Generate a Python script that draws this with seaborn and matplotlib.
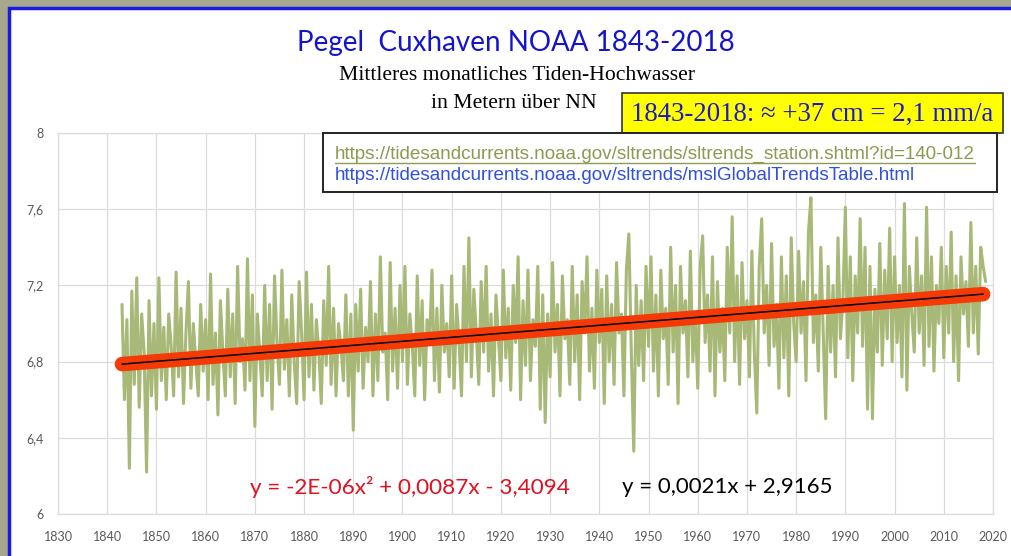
import numpy as np
import pandas as pd
import matplotlib.pyplot as plt
import seaborn as sns
from matplotlib.patches import Rectangle

# Monthly mean high water at Cuxhaven (two samples per year)
start_year = 1843
level_1840s = [7.10, 6.60, 7.02, 6.24, 7.17, 6.68, 7.24, 6.56, 7.05, 6.85, 6.22, 7.12, 6.62, 7.00]
level_1850s = [6.55, 7.24, 6.70, 6.98, 6.60, 7.05, 6.88, 6.62, 7.27, 6.72,
               7.08, 6.58, 6.95, 7.22, 6.66, 7.00, 6.80, 6.62, 7.10, 6.75]
level_1860s = [7.02, 6.60, 7.26, 6.68, 6.95, 6.52, 7.12, 6.85, 6.62, 7.18,
               6.72, 7.05, 6.58, 7.30, 6.80, 6.92, 6.65, 7.34, 6.70, 7.15]
level_1870s = [6.46, 7.05, 6.85, 6.62, 7.20, 6.70, 7.10, 6.55, 7.25, 6.90,
               6.68, 7.28, 6.76, 7.02, 6.62, 7.15, 6.80, 6.58, 7.22, 6.95]
level_1880s = [6.60, 7.27, 6.72, 7.10, 6.65, 7.02, 6.85, 6.58, 7.12, 6.78,
               7.30, 6.68, 7.08, 6.62, 7.00, 6.88, 6.70, 7.15, 6.62, 7.05]
level_1890s = [6.44, 7.10, 6.75, 7.18, 6.66, 6.98, 6.80, 7.22, 6.62, 7.05,
               6.70, 7.35, 6.85, 6.95, 6.60, 7.32, 6.75, 7.08, 6.66, 7.20]
level_1900s = [6.80, 7.30, 6.68, 7.05, 6.88, 6.62, 7.25, 6.78, 7.12, 6.60,
               7.02, 6.90, 7.28, 6.70, 7.08, 6.64, 7.20, 6.85, 7.00, 6.72]
level_1910s = [7.25, 6.66, 7.10, 6.90, 6.62, 7.30, 6.80, 7.45, 6.72, 7.18,
               6.95, 6.68, 7.22, 6.85, 7.30, 6.75, 7.05, 6.62, 7.15, 6.92]
level_1920s = [6.70, 7.28, 6.82, 7.08, 6.65, 7.20, 6.90, 7.35, 6.60, 7.12,
               6.78, 7.28, 6.70, 7.02, 6.88, 7.30, 6.55, 7.15, 6.48, 7.05]
level_1930s = [6.72, 7.32, 6.85, 7.10, 6.62, 7.25, 6.92, 7.02, 6.68, 7.30,
               6.80, 7.15, 6.60, 7.22, 6.95, 7.35, 6.75, 7.08, 6.66, 7.28]
level_1940s = [6.90, 7.18, 6.58, 7.25, 6.80, 7.10, 6.68, 7.32, 6.95, 7.05,
               6.62, 7.28, 7.47, 6.85, 6.33, 7.20, 6.78, 7.12, 6.70, 7.30]
level_1950s = [6.88, 7.35, 6.75, 7.15, 6.62, 7.28, 6.92, 7.08, 6.68, 7.40,
               6.85, 7.20, 6.58, 7.30, 6.95, 7.12, 6.72, 7.38, 6.80, 7.05]
level_1960s = [6.66, 7.30, 7.46, 6.90, 7.15, 6.75, 7.35, 6.62, 7.22, 6.85,
               7.08, 6.70, 7.40, 6.95, 7.56, 6.80, 7.25, 6.68, 7.32, 6.92]
level_1970s = [7.12, 6.72, 7.38, 6.85, 6.53, 7.30, 7.55, 6.95, 7.20, 6.78,
               7.42, 6.88, 7.10, 6.66, 7.35, 6.82, 7.25, 6.62, 7.45, 7.00]
level_1980s = [6.80, 7.38, 6.95, 7.22, 6.70, 7.48, 7.66, 6.90, 7.15, 6.75,
               7.40, 6.95, 6.50, 7.30, 6.85, 7.20, 6.72, 7.45, 6.92, 7.12]
level_1990s = [7.61, 6.82, 7.35, 6.70, 7.25, 6.95, 7.55, 6.88, 7.40, 6.55,
               7.30, 6.50, 7.18, 6.85, 7.42, 6.78, 7.28, 6.92, 7.50, 6.80]
level_2000s = [7.35, 6.90, 7.20, 6.72, 7.63, 6.65, 7.30, 7.05, 6.85, 7.45,
               6.95, 7.25, 6.78, 7.61, 6.88, 7.35, 6.75, 7.20, 7.00, 7.40]
level_2010s = [6.82, 7.30, 6.95, 7.48, 6.80, 7.25, 6.70, 7.35, 7.05, 7.22,
               6.88, 7.53, 6.95, 7.30, 6.84, 7.40, 7.30, 7.22]

# trend lines as shown in the chart
trend_slope = 0.0021
trend_intercept = 2.9165
trend_years = [1843, 2018]

x_ticks = list(range(1830, 2021, 10))
y_ticks = [6, 6.4, 6.8, 7.2, 7.6, 8]
y_tick_labels = ['6', '6,4', '6,8', '7,2', '7,6', '8']

levels = (level_1840s + level_1850s + level_1860s + level_1870s + level_1880s + level_1890s
          + level_1900s + level_1910s + level_1920s + level_1930s + level_1940s + level_1950s
          + level_1960s + level_1970s + level_1980s + level_1990s + level_2000s + level_2010s)
df = pd.DataFrame({'Jahr': start_year + 0.5 * np.arange(len(levels)), 'Pegel': levels})

trend_df = pd.DataFrame({'Jahr': trend_years})
trend_df['Trend'] = trend_slope * trend_df['Jahr'] + trend_intercept

sns.set_style('whitegrid')
plt.rcParams['font.family'] = ['Lato', 'DejaVu Sans']

W, H = 1011, 556
fig = plt.figure(figsize=(W / 100, H / 100), dpi=100)
fig.patch.set_facecolor('#a7a78d')

def fx(x):
    return x / W

def fy(y):
    return 1 - y / H

# white panel with blue frame
fig.add_artist(Rectangle((fx(8.5), fy(560)), fx(1010), 560 / H - 7.5 / H, transform=fig.transFigure,
                         facecolor='white', edgecolor='#1b1be6', linewidth=2.5, zorder=0))

ax = fig.add_axes([fx(58), fy(514), fx(993 - 58), (514 - 133) / H])
ax.set_facecolor('white')

sns.lineplot(data=df, x='Jahr', y='Pegel', ax=ax, color='#a7b877', linewidth=2.2,
             estimator=None, sort=False, zorder=2)
ax.plot(trend_df['Jahr'], trend_df['Trend'], color='#f53a06', linewidth=10.5,
        solid_capstyle='round', zorder=3)
ax.plot(trend_df['Jahr'], trend_df['Trend'], color='black', linewidth=1.1, zorder=4)

ax.set_xlim(1830, 2020)
ax.set_ylim(6, 8)
ax.set_xticks(x_ticks)
ax.set_yticks(y_ticks)
ax.set_yticklabels(y_tick_labels)
ax.set_xlabel('')
ax.set_ylabel('')
ax.grid(True, color='#dcdcdc', linewidth=0.9)
for s in ax.spines.values():
    s.set_color('#dcdcdc')
    s.set_linewidth(0.9)
ax.tick_params(axis='x', length=0, pad=12, labelsize=9, labelcolor='#595959')
ax.tick_params(axis='y', length=0, pad=10, labelsize=9, labelcolor='#595959')

# titles
fig.text(fx(516), fy(43), 'Pegel  Cuxhaven NOAA 1843-2018', ha='center', va='center',
         fontsize=20, color='#1414cc')
fig.text(fx(517), fy(75), 'Mittleres monatliches Tiden-Hochwasser', ha='center', va='center',
         fontsize=15.6, color='black', family='Liberation Serif')
fig.text(fx(514), fy(103), 'in Metern über NN', ha='center', va='center',
         fontsize=15.6, color='black', family='Liberation Serif')

# yellow box
fig.add_artist(Rectangle((fx(622), fy(133)), fx(1003 - 622), (133 - 93) / H, transform=fig.transFigure,
                         facecolor='#ffff00', edgecolor='#333333', linewidth=1.2, zorder=5))
fig.text(fx(812), fy(114), '1843-2018: ≈ +37 cm = 2,1 mm/a', ha='center', va='center',
         fontsize=19.3, color='#1a1acc', family=['Liberation Serif', 'DejaVu Serif'], zorder=6)

# link box
fig.add_artist(Rectangle((fx(323), fy(192)), fx(997 - 323), (192 - 133) / H, transform=fig.transFigure,
                         facecolor='white', edgecolor='#222222', linewidth=1.4, zorder=5))
link1 = fig.text(fx(335), fy(154), 'https://tidesandcurrents.noaa.gov/sltrends/sltrends_station.shtml?id=140-012',
                 ha='left', va='center', fontsize=13.6, color='#8c9a52', family='Liberation Sans', zorder=6)
fig.text(fx(335), fy(175), 'https://tidesandcurrents.noaa.gov/sltrends/mslGlobalTrendsTable.html',
         ha='left', va='center', fontsize=13.6, color='#3050e0', family='Liberation Sans', zorder=6)
fig.canvas.draw()
bb = link1.get_window_extent()
fig.add_artist(plt.Line2D([bb.x0 / W, bb.x1 / W], [fy(163), fy(163)], transform=fig.transFigure,
                          color='#8c9a52', linewidth=1, zorder=6))

# trend equations
fig.text(fx(410), fy(487), 'y = -2E-06x² + 0,0087x - 3,4094', ha='center', va='center',
         fontsize=16.2, color='#e01020')
fig.text(fx(727), fy(487), 'y = 0,0021x + 2,9165', ha='center', va='center',
         fontsize=16, color='black')

fig.savefig('out.png', dpi=100, facecolor=fig.get_facecolor())
